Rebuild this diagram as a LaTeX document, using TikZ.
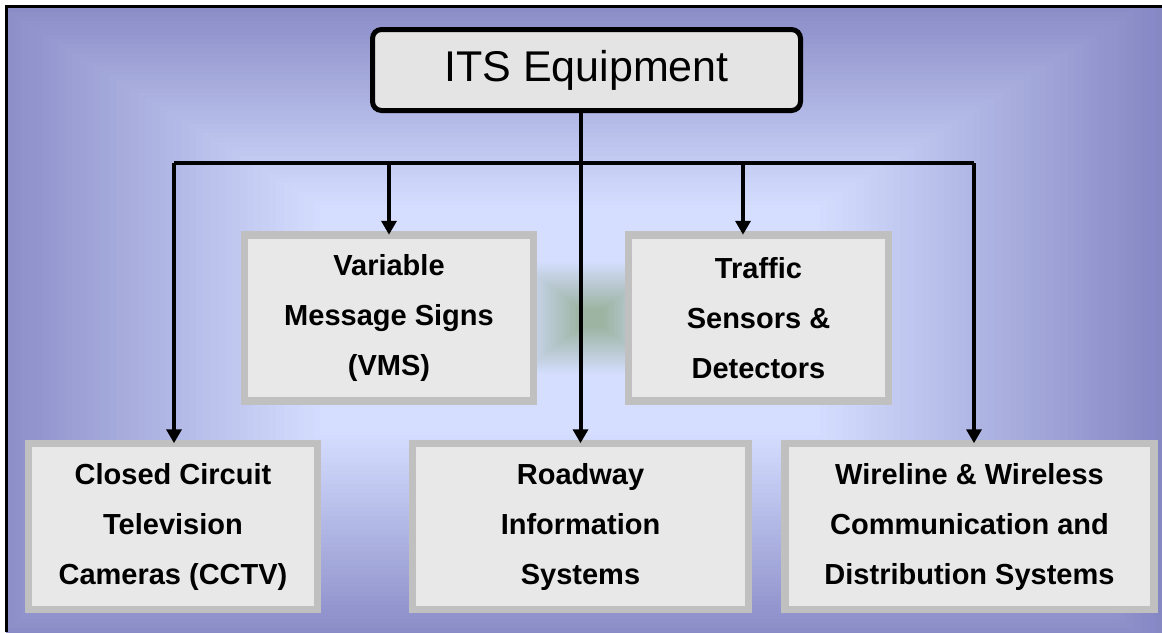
\documentclass[tikz,border=0pt]{standalone}
\usepackage{fontspec}
\setmainfont{Liberation Sans}
\usetikzlibrary{arrows.meta}
\definecolor{bgdark}{HTML}{8486C3}
\definecolor{bglight}{HTML}{D5DEFF}
\definecolor{blob}{HTML}{8FAA8C}
\definecolor{boxfill}{HTML}{E8E8E8}
\definecolor{boxline}{HTML}{C0C0C0}
\definecolor{topfill}{HTML}{E4E4E4}
\tikzset{
  catbox/.style={draw=boxline, line width=7.5, fill=boxfill, align=center,
    font=\fontsize{29}{50}\selectfont\bfseries, inner sep=0pt, minimum height=166},
  topbox/.style={draw=black, line width=5, fill=topfill, rounded corners=9,
    font=\fontsize{43}{50}\selectfont, minimum width=428, minimum height=81},
  link/.style={draw=black, line width=4},
  arr/.style={link, -{Triangle[length=14,width=15]}}
}
\begin{document}
\begin{tikzpicture}[x=1pt,y=-1pt]
\useasboundingbox (0,0) rectangle (1162,632);
% background gradient
\begin{scope}
\clip (6,6) rectangle (1162,632);
\fill[bgdark] (0,0) rectangle (1162,632);
\foreach \i in {0,...,48}{
  \pgfmathsetmacro\tt{\i/48}
  \pgfmathsetmacro\hw{600-350*\tt}
  \pgfmathsetmacro\hh{330-215*\tt}
  \pgfmathsetmacro\pc{100*\tt}
  \fill[bglight!\pc!bgdark] (570-\hw,320-\hh) rectangle (570+\hw,320+\hh);
}
\foreach \i in {0,...,24}{
  \pgfmathsetmacro\tt{\i/24}
  \pgfmathsetmacro\hw{75-62*\tt}
  \pgfmathsetmacro\hh{58-48*\tt}
  \pgfmathsetmacro\pc{80*\tt}
  \fill[blob!\pc!bglight] (592-\hw,318-\hh) rectangle (592+\hw,318+\hh);
}
\end{scope}
\draw[line width=3] (6,632) -- (6,6) -- (1162,6);
% nodes
\node[topbox] (its) at (586.5,70) {ITS Equipment};
\node[catbox, minimum width=289] (vms) at (389,318) {Variable\\Message Signs\\(VMS)};
\node[catbox, minimum width=260] (tsd) at (758.5,318) {Traffic\\Sensors \&\\Detectors};
\node[catbox, minimum width=289] (cctv) at (173,526.5) {Closed Circuit\\Television\\Cameras (CCTV)};
\node[catbox, minimum width=336] (rw) at (580.5,526.5) {Roadway\\Information\\Systems};
\node[catbox, minimum width=369] (wire) at (969.5,526.5) {Wireline \& Wireless\\Communication and\\Distribution Systems};
% connectors
\coordinate (jl) at (174,163);
\coordinate (jr) at (974,163);
\coordinate (jv) at (389,163);
\coordinate (jt) at (743,163);
\draw[link] (jl) -- (jr);
\draw[arr] (rw.north |- its.south) -- ([yshift=-3.5]rw.north);
\draw[arr] (jl) -- ([yshift=-3.5]jl |- cctv.north);
\draw[arr] (jv) -- ([yshift=-3.5]jv |- vms.north);
\draw[arr] (jt) -- ([yshift=-3.5]jt |- tsd.north);
\draw[arr] (jr) -- ([yshift=-3.5]jr |- wire.north);
\end{tikzpicture}
\end{document}
